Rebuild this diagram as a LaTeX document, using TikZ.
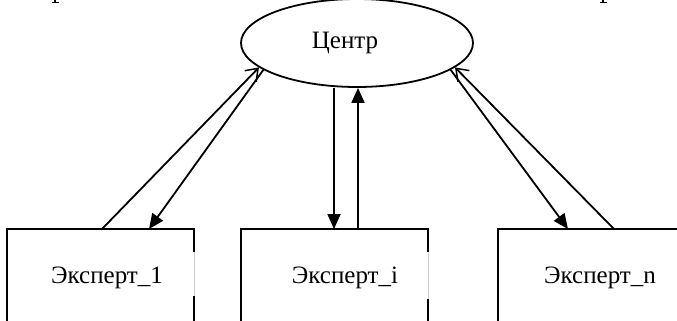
\documentclass[tikz,border=0pt]{standalone}
\usepackage{fontspec}
\setmainfont{Liberation Serif}
\usetikzlibrary{arrows.meta,shapes.geometric}
\begin{document}
\begin{tikzpicture}[x=1pt,y=-1pt,
  ln/.style={line width=1.8pt},
  lbl/.style={font=\fontsize{25}{28}\selectfont, inner sep=0pt},
  hidden/.style={draw=none, inner sep=0pt, rectangle},
  solidtip/.style={ln, -{Triangle[length=15pt,width=13pt]}},
  opentip/.style={ln, -{Straight Barb[length=11pt,width=16pt,line width=1.5pt]}},
  gap/.style={line width=0.6pt, draw=black!20}]
\useasboundingbox (0,0) rectangle (677,321);
% centre ellipse
\node[ellipse, draw, ln, minimum width=232pt, minimum height=88pt, inner sep=0pt] (C) at (357,43) {};
\node[lbl] (Ct) at (345,43) {Центр};
% expert boxes (open at the bottom, beyond the frame)
\node[hidden, minimum width=187pt, minimum height=132pt] (E1) at (100.5,295) {};
\node[hidden, minimum width=187pt, minimum height=132pt] (Ei) at (334.5,295) {};
\node[hidden, minimum width=200pt, minimum height=132pt] (En) at (598,295) {};
\draw[ln] (E1.south west) -- (E1.north west) -- (E1.north east) -- ++(0,23);
\draw[gap] (E1.north east) ++(0,23) -- ++(0,44);
\draw[ln] (E1.north east) ++(0,67) -- (E1.south east);
\draw[ln] (Ei.south west) -- (Ei.north west) -- (Ei.north east) -- ++(0,23);
\draw[gap] (Ei.north east) ++(0,23) -- ++(0,47);
\draw[ln] (Ei.north east) ++(0,70) -- (Ei.south east);
\draw[ln] (En.south west) -- (En.north west) -- (En.north east);
\node[lbl] (L1) at (107,278) {Эксперт\_1};
\node[lbl] (Li) at (345,278) {Эксперт\_i};
\node[lbl] (Ln) at (600,278) {Эксперт\_n};
% connector ends on the box tops
\coordinate (e1out) at (102,229);
\coordinate (e1in) at (149,229);
\coordinate (eidown) at (334,229);
\coordinate (eiup) at (358,229);
\coordinate (enin) at (568,229);
\coordinate (enout) at (614,229);
% connectors
\draw[opentip] (e1out) -- (C.194);
\draw[solidtip] (C.196) -- (e1in);
\draw[solidtip] (C.south -| eidown) -- (eidown);
\draw[solidtip] (eiup) -- (C.south -| eiup);
\draw[opentip] (enout) -- (C.346);
\draw[solidtip] (C.344) -- (enin);
% cut-off descenders of the preceding text line
\draw[line width=1.3pt] (55,0) -- (55,3);
\draw[line width=1pt] (51.5,3) -- (59,3);
\draw[line width=1.3pt] (603,0) -- (603,3);
\draw[line width=1pt] (599.5,3) -- (607,3);
\end{tikzpicture}
\end{document}
